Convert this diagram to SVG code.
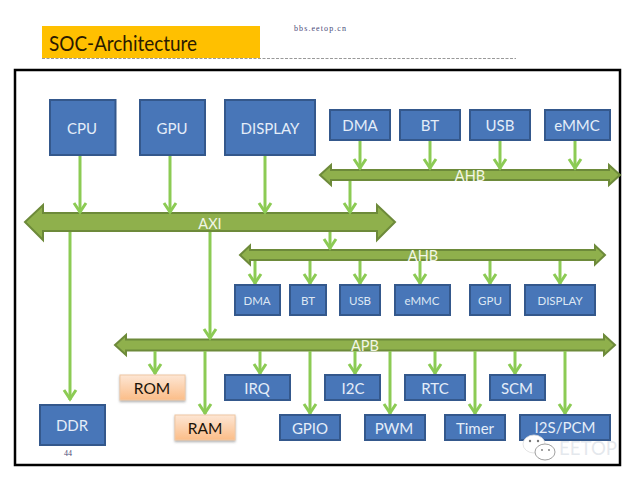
<svg xmlns="http://www.w3.org/2000/svg" width="640" height="480" viewBox="0 0 640 480">
  <style>
    text { font-family: Lato, "Open Sans", "Liberation Sans", sans-serif; text-anchor: middle; dominant-baseline: central; }
    .block { fill: #4876b8; stroke: #34588c; stroke-width: 2; }
    .mem { fill: url(#memFill); stroke: #f0c8a4; stroke-width: 1; filter: url(#memShadow); }
    .label { fill: #e4edf8; font-size: 15px; }
    .small { fill: #dde7f4; font-size: 11.5px; }
    .memlabel { fill: #1c1408; font-size: 15.5px; }
    .bus { fill: #8fb04c; stroke: #6d8a3a; stroke-width: 2; stroke-linejoin: miter; }
    .buslabel { fill: #f2f6e6; font-size: 14.5px; }
    .link { fill: none; stroke: #8ccb54; stroke-width: 3; marker-end: url(#head); }
    .note { font-family: "Liberation Serif", "Noto Sans CJK SC", serif; fill: #4a4a78; text-anchor: start; }
  </style>
  <defs>
    <linearGradient id="memFill" x1="0" y1="0" x2="0" y2="1">
      <stop offset="0" stop-color="#fde6d4"/>
      <stop offset="1" stop-color="#fbbd88"/>
    </linearGradient>
    <filter id="memShadow" x="-10%" y="-10%" width="120%" height="130%">
      <feDropShadow dx="0" dy="1.5" stdDeviation="1" flood-color="#777" flood-opacity="0.6"/>
    </filter>
    <marker id="head" markerUnits="userSpaceOnUse" viewBox="0 0 14 16" markerWidth="14" markerHeight="16" refX="12" refY="8" orient="auto">
      <path d="M2,2 L11,8 L2,14" fill="none" stroke="#8ccb54" stroke-width="3"/>
    </marker>
  </defs>

  <rect width="640" height="480" fill="#fff"/>

  <text class="note" x="294" y="28" font-size="8" textLength="52">bbs.eetop.cn</text>

  <g id="title">
    <rect x="42" y="26" width="218" height="32" fill="#ffc000"/>
    <text x="123" y="43" font-size="20.500" fill="#2a1a00" textLength="148" lengthAdjust="spacingAndGlyphs">SOC-Architecture</text>
    <line x1="42" y1="58.500" x2="516" y2="58.500" stroke="#999" stroke-width="1" stroke-dasharray="3 1.500"/>
  </g>

  <rect id="frame" x="15" y="70" width="605" height="395" fill="#fff" stroke="#000" stroke-width="2.500"/>

  <g id="bus-ahb-top">
    <path class="bus" d="M320,175 L331,165 V170 H609 V165 L620,175 L609,185 V180 H331 V185 Z"/>
    <text class="buslabel" x="470" y="175">AHB</text>
  </g>
  <g id="bus-axi">
    <path class="bus" d="M25,222 L43,205 V213 H377 V205 L395,222 L377,240 V231 H43 V240 Z"/>
    <text class="buslabel" x="210" y="223">AXI</text>
  </g>
  <g id="bus-ahb-mid">
    <path class="bus" d="M240,255 L250,245.500 V250 H595 V245.500 L605,255 L595,264.500 V260 H250 V264.500 Z"/>
    <text class="buslabel" x="423" y="255">AHB</text>
  </g>
  <g id="bus-apb">
    <path class="bus" d="M115,345 L126,335 V339.500 H604 V335 L615,345 L604,355 V350.500 H126 V355 Z"/>
    <text class="buslabel" x="365" y="345">APB</text>
  </g>

  <g id="connectors">
    <line class="link" x1="80" y1="155" x2="80" y2="213"/>
    <line class="link" x1="170" y1="155" x2="170" y2="213"/>
    <line class="link" x1="265" y1="155" x2="265" y2="213"/>
    <line class="link" x1="360" y1="140" x2="360" y2="169"/>
    <line class="link" x1="430" y1="140" x2="430" y2="169"/>
    <line class="link" x1="500" y1="140" x2="500" y2="169"/>
    <line class="link" x1="575" y1="140" x2="575" y2="169"/>
    <line class="link" x1="350" y1="181" x2="350" y2="213"/>
    <line class="link" x1="330" y1="232" x2="330" y2="249"/>
    <line class="link" x1="70" y1="232" x2="70" y2="400"/>
    <line class="link" x1="210" y1="232" x2="210" y2="339"/>
    <line class="link" x1="255" y1="261" x2="255" y2="284"/>
    <line class="link" x1="310" y1="261" x2="310" y2="284"/>
    <line class="link" x1="360" y1="261" x2="360" y2="284"/>
    <line class="link" x1="420" y1="261" x2="420" y2="284"/>
    <line class="link" x1="490" y1="261" x2="490" y2="284"/>
    <line class="link" x1="560" y1="261" x2="560" y2="284"/>
    <line class="link" x1="155" y1="351" x2="155" y2="374"/>
    <line class="link" x1="205" y1="351" x2="205" y2="414"/>
    <line class="link" x1="260" y1="351" x2="260" y2="374"/>
    <line class="link" x1="310" y1="351" x2="310" y2="414"/>
    <line class="link" x1="355" y1="351" x2="355" y2="374"/>
    <line class="link" x1="390" y1="351" x2="390" y2="414"/>
    <line class="link" x1="435" y1="351" x2="435" y2="374"/>
    <line class="link" x1="475" y1="351" x2="475" y2="414"/>
    <line class="link" x1="515" y1="351" x2="515" y2="374"/>
    <line class="link" x1="565" y1="351" x2="565" y2="414"/>
  </g>

  <g id="cpu"><rect class="block" x="50" y="100" width="65.500" height="55"/><text class="label" x="82" y="127.500">CPU</text></g>
  <g id="gpu"><rect class="block" x="140" y="100" width="65" height="55"/><text class="label" x="172" y="127.500">GPU</text></g>
  <g id="display"><rect class="block" x="225" y="100" width="90" height="55"/><text class="label" x="270" y="127.500">DISPLAY</text></g>

  <g id="dma"><rect class="block" x="330" y="110" width="60" height="30"/><text class="label" x="360" y="125">DMA</text></g>
  <g id="bt"><rect class="block" x="400" y="110" width="60" height="30"/><text class="label" x="430" y="125">BT</text></g>
  <g id="usb"><rect class="block" x="470" y="110" width="60" height="30"/><text class="label" x="500" y="125">USB</text></g>
  <g id="emmc"><rect class="block" x="545" y="110" width="65" height="30"/><text class="label" x="577" y="125">eMMC</text></g>

  <g id="dma-2"><rect class="block" x="235" y="285" width="45" height="30"/><text class="small" x="257" y="300">DMA</text></g>
  <g id="bt-2"><rect class="block" x="290" y="285" width="36" height="30"/><text class="small" x="308" y="300">BT</text></g>
  <g id="usb-2"><rect class="block" x="340" y="285" width="40" height="30"/><text class="small" x="360" y="300">USB</text></g>
  <g id="emmc-2"><rect class="block" x="395" y="285" width="55" height="30"/><text class="small" x="422" y="300">eMMC</text></g>
  <g id="gpu-2"><rect class="block" x="470" y="285" width="40" height="30"/><text class="small" x="490" y="300">GPU</text></g>
  <g id="display-2"><rect class="block" x="525" y="285" width="70" height="30"/><text class="small" x="560" y="300">DISPLAY</text></g>

  <g id="rom"><rect class="mem" x="120" y="375" width="65" height="25"/><text class="memlabel" x="152" y="387.500">ROM</text></g>
  <g id="ram"><rect class="mem" x="175" y="415" width="60" height="25"/><text class="memlabel" x="205" y="427.500">RAM</text></g>

  <g id="irq"><rect class="block" x="225" y="375" width="65" height="25"/><text class="label" x="257" y="387.500">IRQ</text></g>
  <g id="i2c"><rect class="block" x="325" y="375" width="55" height="25"/><text class="label" x="353" y="387.500">I2C</text></g>
  <g id="rtc"><rect class="block" x="405" y="375" width="60" height="25"/><text class="label" x="435" y="387.500">RTC</text></g>
  <g id="scm"><rect class="block" x="490" y="375" width="55" height="25"/><text class="label" x="517" y="387.500">SCM</text></g>

  <g id="gpio"><rect class="block" x="280" y="415" width="60" height="25"/><text class="label" x="310" y="427.500">GPIO</text></g>
  <g id="pwm"><rect class="block" x="365" y="415" width="60" height="25"/><text class="label" x="394" y="427.500">PWM</text></g>
  <g id="timer"><rect class="block" x="445" y="415" width="60" height="25"/><text class="label" x="475" y="427.500">Timer</text></g>
  <g id="i2s-pcm"><rect class="block" x="520" y="415" width="90" height="25"/><text class="label" x="565" y="427">I2S/PCM</text></g>

  <g id="ddr"><rect class="block" x="40" y="405" width="65" height="40"/><text class="label" x="72" y="425">DDR</text></g>
  <text class="note" x="64" y="453" font-size="8">44</text>

  <!-- Chat-bubble badge and name in the lower right corner -->
  <g id="badge">
    <ellipse cx="534" cy="444" rx="11" ry="9" fill="#fff" stroke="#ddd" stroke-width="0.800"/>
    <ellipse cx="545" cy="452" rx="10" ry="8" fill="#fff" stroke="#888" stroke-width="0.800"/>
    <circle cx="530" cy="441" r="1.200" fill="#777"/>
    <circle cx="538" cy="441" r="1.200" fill="#777"/>
    <circle cx="542" cy="450" r="0.900" fill="#777"/>
    <circle cx="549" cy="450" r="0.900" fill="#777"/>
    <text x="588" y="447" font-size="19" fill="#dfe4ea" fill-opacity="0.850" textLength="58" lengthAdjust="spacingAndGlyphs">EETOP</text>
  </g>
</svg>
